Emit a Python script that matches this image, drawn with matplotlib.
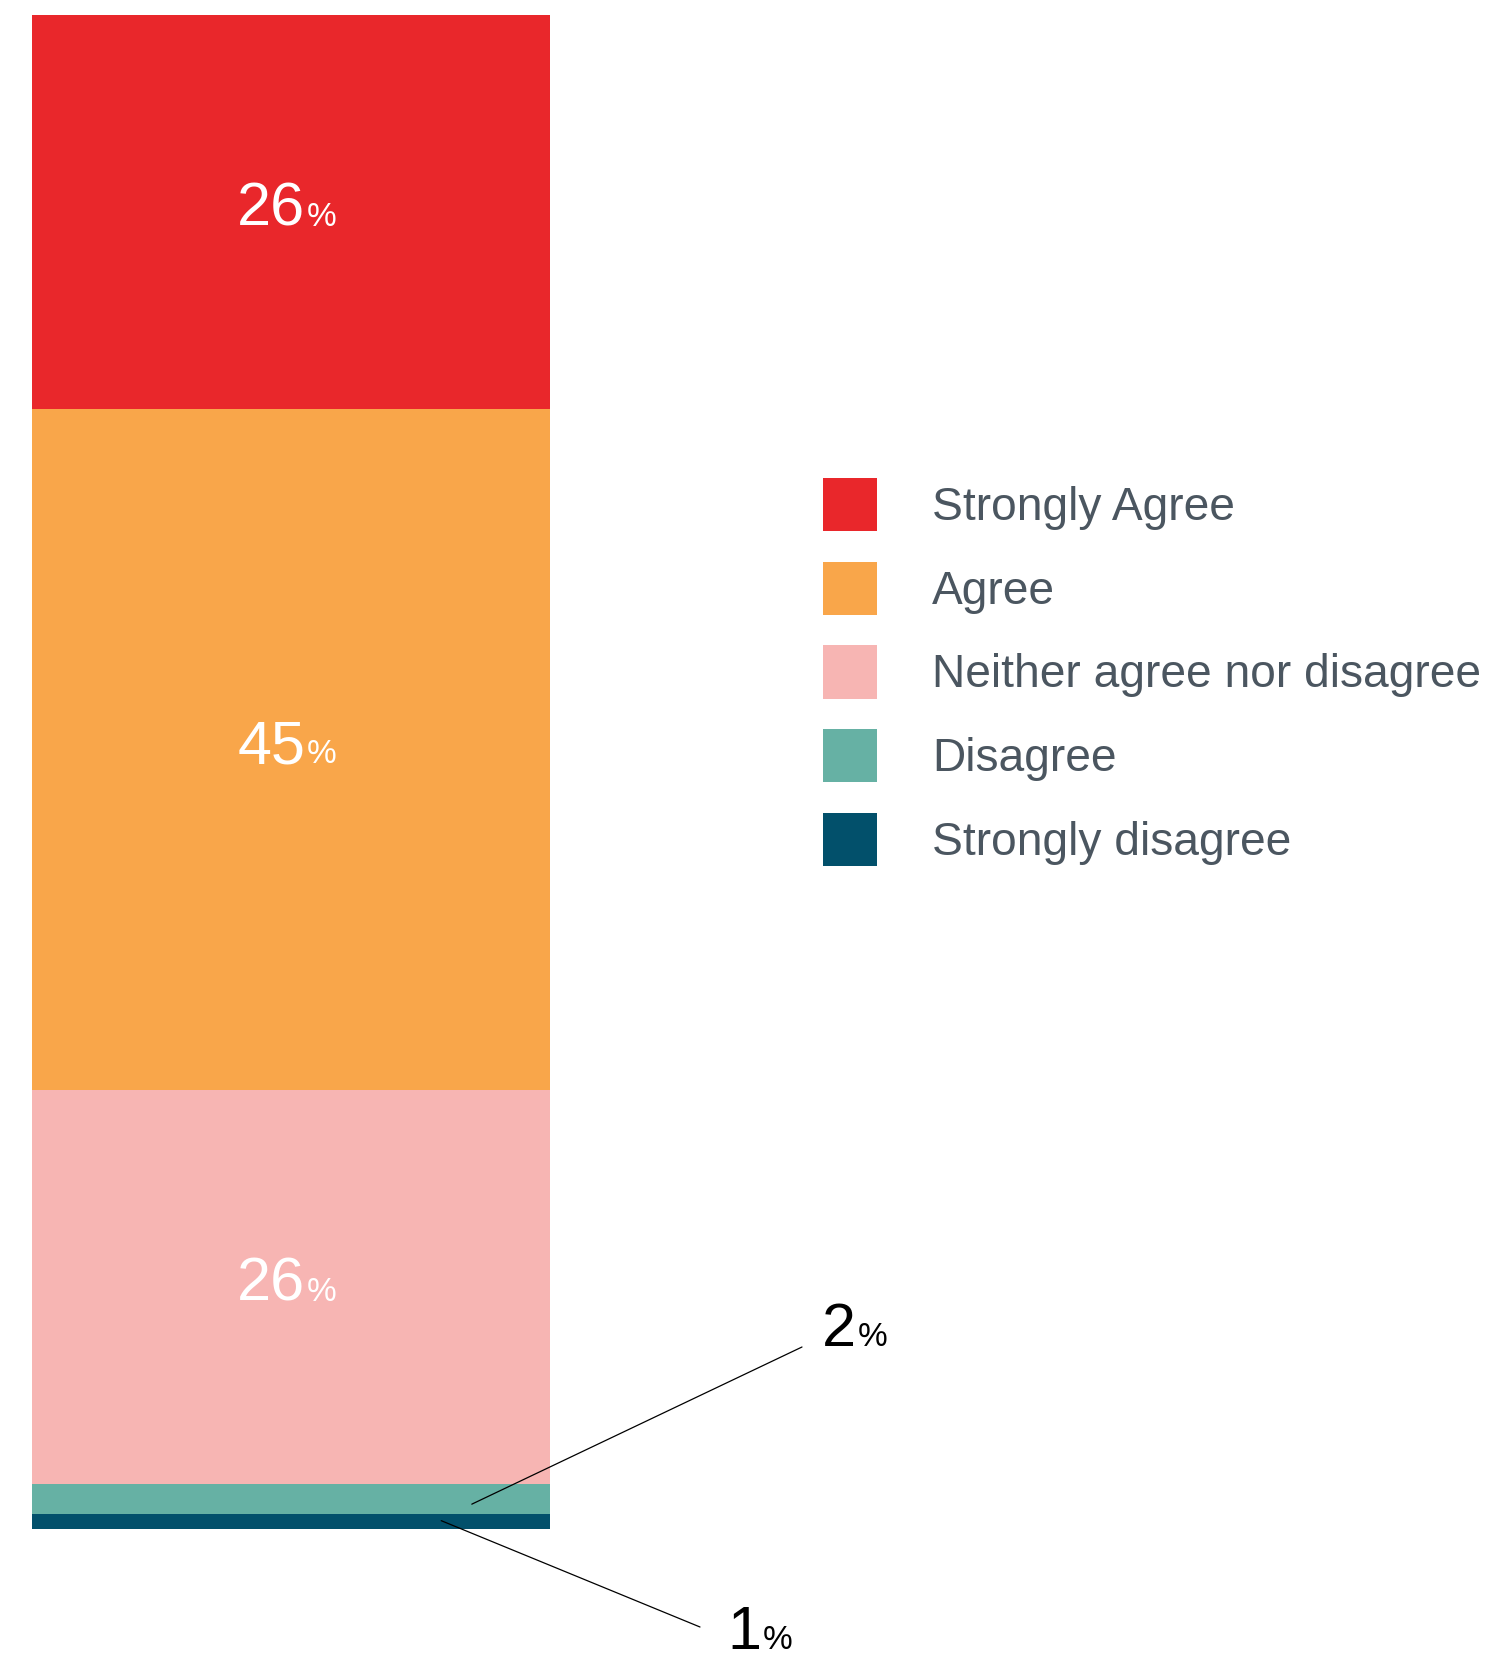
import matplotlib
matplotlib.use("Agg")
import matplotlib.pyplot as plt
from matplotlib.transforms import IdentityTransform

plt.rcParams["font.family"] = ["Liberation Sans", "DejaVu Sans"]

# Survey responses, stacked from the bottom of the bar upwards
categories = ["Strongly disagree", "Disagree", "Neither agree nor disagree",
              "Agree", "Strongly Agree"]
values = [1, 2, 26, 45, 26]
colors = ["#02506B", "#66B1A4", "#F7B5B3", "#F9A64A", "#E9272B"]
legend_order = ["Strongly Agree", "Agree", "Neither agree nor disagree",
                "Disagree", "Strongly disagree"]

W, H = 1489, 1662
fig = plt.figure(figsize=(W / 100, H / 100), dpi=100)
ax = fig.add_axes([0, 133 / H, 1, (1647 - 133) / H])
ax.set_xlim(-0.5618, 2.3127)
ax.set_ylim(0, sum(values))
ax.axis("off")

bars = {}
bottom = 0
for cat, val, col in zip(categories, values, colors):
    b = ax.bar(0, val, width=1.0, bottom=bottom, color=col, label=cat,
               linewidth=0)
    bars[cat] = (b, bottom, val)
    bottom += val

fig.canvas.draw()
renderer = fig.canvas.get_renderer()
ident = IdentityTransform()


def pct_label(x, y, value, color, num_size=44, pct_size=24, align="center",
              gap=2):
    """Draw a big number with a small percent sign sharing its baseline,
    positioned in display pixels (x is the centre or left edge)."""
    num = fig.text(0, 0, f"{value}", transform=ident, fontsize=num_size,
                   color=color, va="baseline", ha="left")
    pct = fig.text(0, 0, "%", transform=ident, fontsize=pct_size,
                   color=color, va="baseline", ha="left")
    wn = num.get_window_extent(renderer).width
    wp = pct.get_window_extent(renderer).width
    left = x - (wn + gap + wp) / 2 if align == "center" else x
    num.set_position((left, y))
    pct.set_position((left + wn + gap, y))


# Values inside the three large segments
for cat in ["Strongly Agree", "Agree", "Neither agree nor disagree"]:
    _, b0, val = bars[cat]
    cx, cy = ax.transData.transform((0, b0 + val / 2))
    pct_label(cx - 4, cy - 14, val, "white")

# Call-outs for the two thin segments
callouts = [
    ("Disagree", 0.349, 0.32, (802, H - 1347), (822, H - 1346)),
    ("Strongly disagree", 0.29, 0.55, (700, H - 1627), (727, H - 1649)),
]
for cat, bx, frac, line_end, text_pos in callouts:
    _, b0, val = bars[cat]
    ax.annotate("", xy=(bx, b0 + frac * val), xycoords="data",
                xytext=line_end, textcoords="figure pixels",
                arrowprops=dict(arrowstyle="-", color="black", lw=0.9,
                                shrinkA=0, shrinkB=0))
    pct_label(text_pos[0], text_pos[1], val, "black", align="left")

handles = [bars[c][0] for c in legend_order]
leg = ax.legend(handles, legend_order, loc="upper left",
                bbox_to_anchor=(823, H - 478), bbox_transform=ident,
                frameon=False, fontsize=33.2, handlelength=1.17,
                handleheight=1.4, handletextpad=1.2, labelspacing=0.66,
                borderpad=0, borderaxespad=0)
for t in leg.get_texts():
    t.set_color("#4B5660")

fig.savefig("out.png", dpi=100)
